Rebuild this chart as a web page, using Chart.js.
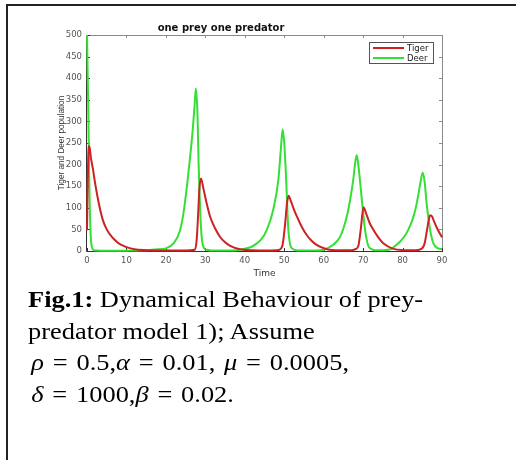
<!DOCTYPE html>
<html>
<head>
<meta charset="utf-8">
<script src="https://cdn.jsdelivr.net/npm/chart.js@4.4.0/dist/chart.umd.min.js"></script>
<style>
  html, body { margin: 0; padding: 0; background: #fff; }
  body { width: 518px; height: 460px; position: relative; overflow: hidden; }
  #frame { position: absolute; left: 6px; top: 4px; width: 508px; height: 470px;
           border-left: 2px solid #222; border-top: 2px solid #222; }
  #wrap { position: absolute; left: 0; top: 0; width: 518px; height: 290px; }
  #caption { position: absolute; left: 28px; top: 284px; width: 420px;
             font-family: "Liberation Serif", "Times New Roman", serif; font-size: 24px;
             line-height: 31.7px; color: #000; white-space: nowrap;
             transform: scaleX(1.1); transform-origin: 0 0; }
  #caption .eq { padding-left: 3px; word-spacing: 2px; }
  #caption i { font-style: italic; }
</style>
</head>
<body>
<div id="frame"></div>
<div id="wrap"><canvas id="myChart" width="518" height="290"></canvas></div>
<div id="caption">
  <div><b>Fig.1:</b> Dynamical Behaviour of prey-</div>
  <div>predator model 1); Assume</div>
  <div class="eq"><i>ρ</i> = 0.5,<i>α</i> = 0.01, <i>μ</i> = 0.0005,</div>
  <div class="eq"><i>δ</i> = 1000,<i>β</i> = 0.02.</div>
</div>
<script>
// values
var tigerTime = [0, 0.3, 0.6, 1, 1.5, 2, 3, 4, 5, 6, 7, 8, 9, 10, 12, 15, 20, 25, 27.3, 27.8,
  28.2, 28.5, 28.9, 29.5, 30.3, 31.2, 32.5, 33.7, 35, 36.3, 38.8, 42, 46, 48, 49, 49.6, 50.2, 50.7, 51.1, 51.6,
  52.3, 53.2, 54.5, 55.7, 57, 58.2, 60.8, 64, 67, 68.2, 68.8, 69.4, 70.1, 70.8, 71.6, 72.6, 73.8, 75.1, 77.7, 80,
  83, 84.8, 85.6, 86.2, 86.6, 87, 87.5, 88, 89, 90];
var tigerPop = [48, 215, 243, 215, 190, 160, 110, 72, 50, 36, 26, 18, 13, 9, 4, 2, 1, 1, 3, 25,
  90, 145, 168, 145, 112, 80, 52, 33, 20, 12, 4, 1.5, 1, 1.5, 4, 15, 60, 110, 128, 118,
  100, 80, 55, 37, 23, 14, 4, 1.5, 2, 5, 12, 50, 101, 86, 66, 49, 32, 18, 5, 2,
  1.5, 5, 18, 49, 70, 83, 80, 68, 48, 32];

var deerTime = [0, 0.3, 0.6, 0.9, 1.2, 1.6, 2.5, 5, 10, 14, 16, 18, 20, 22, 23.5, 24.5, 25.4, 26, 26.8, 27.3,
  27.6, 28, 28.3, 28.7, 29.1, 29.6, 30.3, 33, 36, 38, 40, 42, 44, 45.6, 47.2, 48.5, 49.1, 49.6, 50, 50.5,
  51, 51.5, 52, 53, 56, 58, 60, 62.5, 64, 65, 66, 66.7, 67.5, 68, 68.4, 68.9, 69.6, 70.5, 71.3, 72,
  73, 75, 77, 78.3, 79.4, 80.5, 81.5, 82.5, 83.3, 84, 84.6, 85.1, 85.6, 86.1, 87, 87.8, 89, 90];
var deerPop = [500, 340, 150, 45, 10, 3, 1, 0.5, 0.8, 1.5, 2.5, 4, 6, 18, 45, 90, 155, 205, 280, 340,
  376, 320, 200, 90, 30, 8, 3, 1, 1, 2, 5, 11, 25, 49, 95, 164, 230, 282, 250, 164,
  55, 15, 6, 2, 1, 1, 3, 15, 30, 52, 85, 118, 165, 205, 222, 190, 126, 49, 12, 5,
  2, 2, 4, 13, 22, 34, 50, 72, 98, 130, 162, 181, 160, 110, 49, 18, 6, 4];

var timeTicks = [0, 10, 20, 30, 40, 50, 60, 70, 80, 90];
var popTicks = [0, 50, 100, 150, 200, 250, 300, 350, 400, 450, 500];

function toPoints(xs, ys) {
  return xs.map(function (t, i) { return { x: t, y: ys[i] }; });
}

// matlab style box with inward ticks, plus the legend box
var matlabBox = {
  id: 'matlabBox',
  beforeDatasetsDraw: function (chart) {
    var ctx = chart.ctx, a = chart.chartArea, x = chart.scales.x, y = chart.scales.y;
    ctx.save();
    ctx.lineWidth = 1;
    ctx.strokeStyle = '#8a8a8a';
    ctx.beginPath();
    ctx.moveTo(a.left, a.top + 0.5); ctx.lineTo(a.right + 0.5, a.top + 0.5); ctx.lineTo(a.right + 0.5, a.bottom);
    x.ticks.forEach(function (t) {
      var px = Math.round(x.getPixelForValue(t.value)) + 0.5;
      ctx.moveTo(px, a.top); ctx.lineTo(px, a.top + 3);
    });
    y.ticks.forEach(function (t) {
      var py = Math.round(y.getPixelForValue(t.value)) + 0.5;
      ctx.moveTo(a.right, py); ctx.lineTo(a.right - 3, py);
    });
    ctx.stroke();
    ctx.strokeStyle = '#333';
    ctx.beginPath();
    ctx.moveTo(a.left - 0.5, a.top); ctx.lineTo(a.left - 0.5, a.bottom + 0.5); ctx.lineTo(a.right + 1, a.bottom + 0.5);
    x.ticks.forEach(function (t) {
      var px = Math.round(x.getPixelForValue(t.value)) + 0.5;
      ctx.moveTo(px, a.bottom); ctx.lineTo(px, a.bottom - 3);
    });
    y.ticks.forEach(function (t) {
      var py = Math.round(y.getPixelForValue(t.value)) + 0.5;
      ctx.moveTo(a.left, py); ctx.lineTo(a.left + 3, py);
    });
    ctx.stroke();
    ctx.restore();
  },
  afterDraw: function (chart) {
    var ctx = chart.ctx;
    var bx = 369.5, by = 42.5, bw = 64, bh = 21;
    ctx.save();
    ctx.fillStyle = '#fff';
    ctx.fillRect(bx, by, bw, bh);
    ctx.strokeStyle = '#555';
    ctx.lineWidth = 1;
    ctx.strokeRect(bx, by, bw, bh);
    ctx.font = '8.5px "DejaVu Sans"';
    ctx.textBaseline = 'middle';
    chart.data.datasets.forEach(function (ds, i) {
      var ly = 48 + i * 10;
      ctx.strokeStyle = ds.borderColor;
      ctx.lineWidth = 2;
      ctx.beginPath();
      ctx.moveTo(373, ly); ctx.lineTo(404, ly);
      ctx.stroke();
      ctx.fillStyle = '#222';
      ctx.fillText(ds.label, 407, ly + 0.5);
    });
    ctx.restore();
  }
};

var ctx = document.getElementById('myChart').getContext('2d');
var myChart = new Chart(ctx, {
  type: 'line',
  data: {
    datasets: [{
      label: 'Tiger',
      data: toPoints(tigerTime, tigerPop),
      borderColor: '#cc2222',
      borderWidth: 2,
      pointRadius: 0,
      cubicInterpolationMode: 'monotone',
      clip: 4
    }, {
      label: 'Deer',
      data: toPoints(deerTime, deerPop),
      borderColor: '#33e033',
      borderWidth: 2,
      pointRadius: 0,
      cubicInterpolationMode: 'monotone',
      clip: 4
    }]
  },
  options: {
    responsive: false,
    animation: false,
    layout: { padding: { left: 0, right: 76, top: 0, bottom: 0 } },
    plugins: {
      legend: { display: false },
      tooltip: { enabled: false },
      title: {
        display: true,
        text: 'one prey one predator',
        color: '#111',
        font: { family: 'DejaVu Sans', size: 10, weight: 'bold' },
        padding: { top: 22, bottom: 1 }
      }
    },
    scales: {
      x: {
        type: 'linear',
        min: 0, max: 90,
        afterBuildTicks: function (s) { s.ticks = timeTicks.map(function (v) { return { value: v }; }); },
        afterFit: function (s) { s.height = 39; },
        grid: { display: false, drawTicks: false },
        border: { display: false },
        ticks: { color: '#555', padding: 5, maxRotation: 0, font: { family: 'DejaVu Sans', size: 8.5 } },
        title: { display: true, text: 'Time', color: '#333', font: { family: 'DejaVu Sans', size: 9 }, padding: { top: 0, bottom: 11 } }
      },
      y: {
        min: 0, max: 500,
        afterBuildTicks: function (s) { s.ticks = popTicks.map(function (v) { return { value: v }; }); },
        afterFit: function (s) { s.width = 87; },
        grid: { display: false, drawTicks: false },
        border: { display: false },
        ticks: { color: '#555', padding: 5, font: { family: 'DejaVu Sans', size: 8.5 } },
        title: { display: true, text: 'Tiger and Deer population', color: '#333', font: { family: 'Liberation Sans', size: 8.2 }, padding: { top: 57, bottom: 0 } }
      }
    }
  },
  plugins: [matlabBox]
});
</script>
</body>
</html>
